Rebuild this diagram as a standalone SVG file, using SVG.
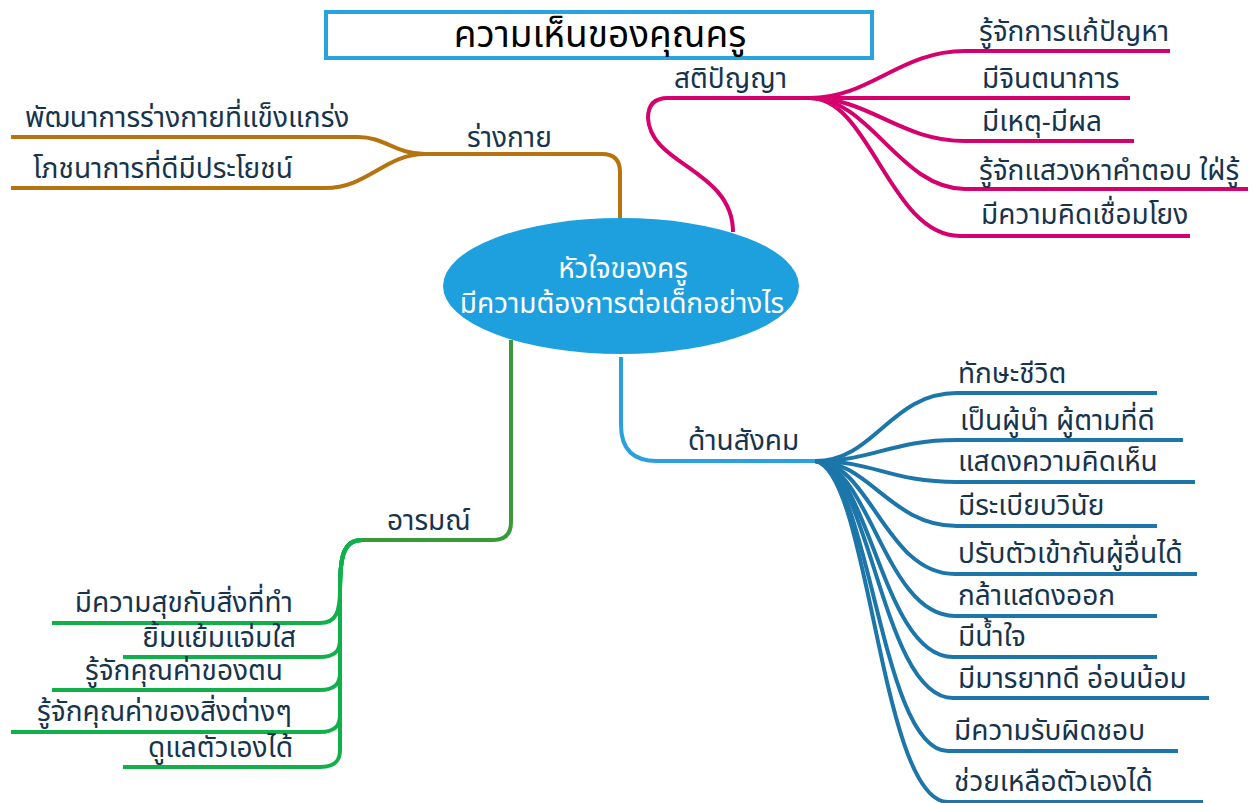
<svg xmlns="http://www.w3.org/2000/svg" width="1253" height="803" viewBox="0 0 1253 803">
<style>
.t{font-family:"Noto Sans Thai","Noto Sans","Liberation Sans",sans-serif;fill:#17344d;font-size:28px}
.w{font-family:"Noto Sans Thai","Noto Sans","Liberation Sans",sans-serif;fill:#ffffff;font-size:28px}
.br{fill:none;stroke:#b5740f;stroke-width:4;stroke-linecap:butt}
.pk{fill:none;stroke:#d5006d;stroke-width:4}
.bm{fill:none;stroke:#2aa0dc;stroke-width:4}
.bs{fill:none;stroke:#1c76a9;stroke-width:4}
.gm{fill:none;stroke:#3a9a3a;stroke-width:4}
.gs{fill:none;stroke:#12b04b;stroke-width:4}
</style>
<g id="connectors">
<path class="br" d="M620,218 L620,172 Q620,154 602,154 L425,154"/>
<path class="br" d="M425,154 C395,154 385,137 358,137 L11,137"/>
<path class="br" d="M425,154 C385,154 368,188 325,188 L11,188"/>
<path class="pk" d="M733,232 C733,170 650,165 648,118 Q648,98 668,98 L810,98"/>
<path class="pk" d="M810,98 C870,98 900,51 965,51 L1170,51"/>
<path class="pk" d="M810,98 L1130,98"/>
<path class="pk" d="M810,98 C870,98 900,141 965,141 L1134,141"/>
<path class="pk" d="M810,98 C870,98 900,189 965,189 L1248,189"/>
<path class="pk" d="M810,98 C870,98 890,236 960,236 L1190,236"/>
<path class="bm" d="M621,357 L621,425 Q621,461 657,461 L815,461"/>
<path class="bs" d="M815,461 C875,461 890,393 957,393 L1157,393"/>
<path class="bs" d="M815,461 C875,461 890,440 957,440 L1183,440"/>
<path class="bs" d="M815,461 C875,461 890,482 957,482 L1195,482"/>
<path class="bs" d="M815,461 C870,461 890,526 957,526 L1157,526"/>
<path class="bs" d="M815,461 C870,461 885,574 955,574 L1197,574"/>
<path class="bs" d="M815,461 C870,465 885,616 955,616 L1157,616"/>
<path class="bs" d="M815,461 C870,465 882,657 953,657 L1157,657"/>
<path class="bs" d="M815,461 C870,465 882,698 953,698 L1209,698"/>
<path class="bs" d="M815,461 C870,468 880,751 948,751 L1178,751"/>
<path class="bs" d="M815,461 C870,470 880,802 948,802 L1203,802"/>
<path class="gm" d="M511,340 L511,522 Q511,540 493,540 L358,540"/>
<path class="gs" d="M362,540 C342,540 340,560 340,590 C340,612 336,623 320,623 L52,623"/>
<path class="gs" d="M362,540 C342,540 340,560 340,590 L340,640 C340,650 336,657 320,657 L123,657"/>
<path class="gs" d="M362,540 C342,540 340,560 340,590 L340,673 C340,683 336,690 320,690 L52,690"/>
<path class="gs" d="M362,540 C342,540 340,560 340,590 L340,715 C340,725 336,732 320,732 L11,732"/>
<path class="gs" d="M362,540 C342,540 340,560 340,590 L340,750 C340,760 336,767 320,767 L123,767"/>
</g>
<g id="title">
<rect x="326" y="12" width="546" height="46" fill="#ffffff" stroke="#29a3dd" stroke-width="4"/>
<text x="600" y="47" text-anchor="middle" style="font-family:'Noto Sans Thai','Noto Sans','Liberation Sans',sans-serif;font-size:37px;fill:#000000">ความเห็นของคุณครู</text>
</g>
<g id="center">
<ellipse cx="621" cy="286" rx="178" ry="68" fill="#1ea0df"/>
<text class="w" x="623" y="278" text-anchor="middle">หัวใจของครู</text>
<text class="w" x="622" y="313" text-anchor="middle">มีความต้องการต่อเด็กอย่างไร</text>
</g>
<g id="body">
<text class="t" x="467" y="147">ร่างกาย</text>
<text class="t" x="25" y="127">พัฒนาการร่างกายที่แข็งแกร่ง</text>
<text class="t" x="33" y="178">โภชนาการที่ดีมีประโยชน์</text>
</g>
<g id="intellect">
<text class="t" x="674" y="88">สติปัญญา</text>
<text class="t" x="979" y="41">รู้จักการแก้ปัญหา</text>
<text class="t" x="982" y="88">มีจินตนาการ</text>
<text class="t" x="982" y="131">มีเหตุ-มีผล</text>
<text class="t" x="979" y="180">รู้จักแสวงหาคำตอบ ใฝ่รู้</text>
<text class="t" x="981" y="224">มีความคิดเชื่อมโยง</text>
</g>
<g id="social">
<text class="t" x="688" y="450">ด้านสังคม</text>
<text class="t" x="958" y="383">ทักษะชีวิต</text>
<text class="t" x="960" y="430">เป็นผู้นำ ผู้ตามที่ดี</text>
<text class="t" x="958" y="471">แสดงความคิดเห็น</text>
<text class="t" x="958" y="515">มีระเบียบวินัย</text>
<text class="t" x="958" y="563">ปรับตัวเข้ากันผู้อื่นได้</text>
<text class="t" x="958" y="605">กล้าแสดงออก</text>
<text class="t" x="958" y="646">มีน้ำใจ</text>
<text class="t" x="958" y="688">มีมารยาทดี อ่อนน้อม</text>
<text class="t" x="954" y="740">มีความรับผิดชอบ</text>
<text class="t" x="954" y="791">ช่วยเหลือตัวเองได้</text>
</g>
<g id="emotion">
<text class="t" x="387" y="530">อารมณ์</text>
<text class="t" x="293" y="612" text-anchor="end">มีความสุขกับสิ่งที่ทำ</text>
<text class="t" x="296" y="647" text-anchor="end">ยิ้มแย้มแจ่มใส</text>
<text class="t" x="283" y="680" text-anchor="end">รู้จักคุณค่าของตน</text>
<text class="t" x="292" y="721" text-anchor="end">รู้จักคุณค่าของสิ่งต่างๆ</text>
<text class="t" x="293" y="757" text-anchor="end">ดูแลตัวเองได้</text>
</g>
</svg>
